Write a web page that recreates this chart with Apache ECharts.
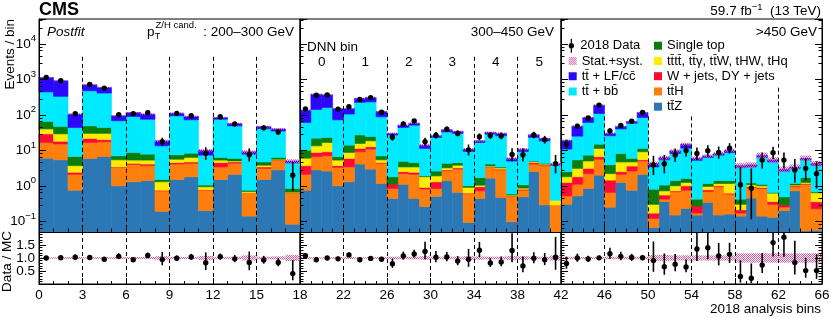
<!DOCTYPE html>
<html><head><meta charset="utf-8">
<script src="https://cdn.jsdelivr.net/npm/echarts@6.0.0/dist/echarts.min.js"></script>
<style>html,body{margin:0;padding:0;background:#fff}#c{width:830px;height:318px}</style>
</head><body><div id="c"></div>
<script>
// ---------------- data (per analysis bin, 0..65) ----------------
const sectionRanges = [[0, 18], [18, 42], [42, 66]];
const sectionTickStep = [3, 4, 4];
const sectionTitles = ['200–300 GeV', '300–450 GeV', '>450 GeV'];
const dnnBinLabels = ['0', '1', '2', '3', '4', '5'];

const ttZ = [6.0, 5.4, 0.75, 5.9, 6.7, 1.0, 1.3, 1.4, 0.19, 1.5, 1.8, 0.2, 1.5, 2.1, 0.14, 1.5, 2.8, 0.083,
  0.75, 2.8, 2.6, 1.0, 1.3, 4.1, 2.95, 1.16, 0.44, 1.1, 0.44, 0.26, 0.5, 1.4, 0.65, 0.093, 0.44, 1.64, 0.47, 0.097, 0.49, 2.5, 0.29, 0.04,
  0.3, 0.52, 0.84, 2.0, 0.25, 1.24, 0.75, 2.1, 0.067, 0.36, 0.15, 0.23, 0.15, 0.34, 0.15, 0.16, 0.14, 0.45, 0.14, 0.13, 0.2, 0.72, 0.054, 0.056];
const ttH = [10.6, 9.6, 1.35, 10.7, 10.7, 2.3, 2.7, 2.3, 0.53, 2.6, 2.5, 0.55, 1.9, 2.2, 0.51, 1.6, 2.5, 0.54,
  1.35, 3.8, 4.4, 2.3, 2.1, 5.0, 7.85, 3.14, 0.4, 1.1, 1.66, 0.55, 0.34, 1.25, 2.3, 0.51, 0.28, 1.66, 2.33, 0.4, 0.26, 1.6, 3.4, 0.25,
  0.22, 0.58, 1.36, 3.6, 0.4, 0.86, 1.85, 2.9, 0.053, 0.06, 0.53, 0.52, 0.02, 0.35, 0.79, 0.42, 0.03, 0.45, 0.7, 0.17, 0.05, 0.22, 1.05, 0.17];
const wJets = [12.4, 3.0, 0.3, 5.0, 2.6, 0.1, 0.3, 0.4, 0.03, 0.4, 0.4, 0.02, 1.1, 0.4, 0.0, 0.3, 0.1, 0.01,
  1.6, 2.1, 2.1, 0.4, 2.5, 2.2, 1.8, 0.2, 0.28, 0.3, 0.3, 0.09, 0.46, 0.15, 0.25, 0.02, 0.22, 0.1, 0.15, 0.02, 0.05, 0.4, 0.2, 0.0,
  0.72, 0.7, 0.9, 1.0, 0.8, 0.4, 1.0, 0.4, 0.05, 0.13, 0.04, 0.25, 0.1, 0.08, 0.06, 0.04, 0.04, 0.06, 0.06, 0.06, 0.04, 0.06, 0.06, 0.13];
const rareTop = [11, 11, 1.3, 8.4, 10, 2.0, 1.0, 1.2, 0.55, 1.1, 1.6, 0.17, 0.8, 0.3, 0.04, 0.4, 0.2, 0.03,
  2.3, 4.7, 7.5, 1.6, 2.8, 4.3, 5.9, 0.9, 0.0, 0.9, 1.0, 0.9, 0.6, 0.4, 0.6, 0.28, 0.1, 0.2, 0.25, 0.03, 0.06, 0.3, 0.2, 0.1,
  0.56, 1.3, 1.9, 4.7, 0.75, 2.2, 1.1, 3.7, 0.13, 0.17, 0.28, 0.24, 0.0, 0.19, 0.16, 0.54, 0.09, 0.11, 0.1, 0.26, 0.0, 0.05, 0.08, 0.28];
const singleTop = [25, 18, 3.0, 19, 14, 1.6, 3.4, 2.5, 0.2, 1.9, 2.0, 0.11, 1.0, 0.9, 0.06, 0.9, 0.7, 0.18,
  4.0, 8.6, 6.4, 1.3, 5.3, 11.4, 6.1, 1.6, 0.68, 1.5, 1.1, 0.1, 0.7, 1.1, 0.7, 0.1, 0.66, 0.5, 0.2, 0.04, 0.21, 0.2, 0.2, 0.0,
  0.7, 2.3, 2.3, 3.6, 1.7, 3.4, 1.2, 2.2, 0.5, 0.33, 0.4, 0.36, 0.15, 0.2, 0.24, 0.24, 0.12, 0.13, 0.1, 0.03, 0.2, 0.11, 0.46, 0.04];
const ttbb = [377, 283, 37, 426, 366, 61, 81, 67, 11.9, 86.5, 64, 6.25, 68.7, 43, 7.05, 36, 28.7, 3.56,
  51, 119, 138, 65.4, 91, 197, 207, 81, 25.2, 39, 46.5, 9.4, 20.4, 28.7, 25.5, 8.3, 14.9, 24.5, 22.3, 4.4, 8.2, 18, 14.2, 3.4,
  8.3, 19.6, 53.7, 94, 21.8, 31.9, 52, 72.7, 2.6, 4.35, 6.7, 9.9, 4.8, 5.1, 5.9, 7.3, 2.9, 2.2, 5.2, 4.05, 2.1, 1.94, 3.7, 3.1];
const ttLF = [685, 580, 61, 225, 180, 26, 26, 30, 5.1, 17, 18, 2.7, 9, 8, 1.3, 6, 5, 0.6,
  74, 239, 204, 78, 45, 66, 78, 36, 3, 7, 7, 2.7, 2.7, 5, 4, 1.5, 1.9, 3.4, 4.3, 0.9, 1.5, 4.3, 3, 0.3,
  8.2, 23, 23, 78, 4.3, 7, 7, 32, 0.9, 0.9, 1.6, 3.4, 0.8, 0.7, 0.8, 1.3, 0.4, 0.5, 1.0, 0.7, 0.35, 0.3, 0.6, 0.5];
const dataObs = [1130, 920, 108, 712, 560, 100, 108, 115, 17.5, 110, 94, 8.2, 88, 55, 7.5, 43, 33, 2.0,
  147, 355, 365, 145, 168, 270, 305, 118, 23.5, 55, 67, 17.5, 26.5, 39.5, 30, 10.3, 24, 26, 25.5, 7.6, 7.5, 27, 20, 4.2,
  15, 48, 81, 188, 35, 50, 66, 117, 3.9, 4.2, 7.4, 9.8, 8.1, 9.7, 8.7, 11.4, 1.07, 0.86, 5.3, 8.6, 5.3, 2.8, 3.1, 2.2];
const relUnc = [0.03, 0.03, 0.04, 0.03, 0.03, 0.04, 0.04, 0.04, 0.07, 0.04, 0.04, 0.08, 0.04, 0.05, 0.1, 0.05, 0.06, 0.12,
  0.04, 0.03, 0.03, 0.04, 0.04, 0.03, 0.03, 0.04, 0.05, 0.05, 0.05, 0.07, 0.05, 0.05, 0.05, 0.07, 0.06, 0.05, 0.05, 0.08, 0.07, 0.05, 0.05, 0.1,
  0.05, 0.04, 0.04, 0.04, 0.05, 0.05, 0.05, 0.05, 0.12, 0.12, 0.1, 0.1, 0.1, 0.1, 0.1, 0.1, 0.18, 0.18, 0.18, 0.18, 0.18, 0.18, 0.18, 0.18];
// upper end (events/bin) of the dashed group separators in the main panel (hidden behind legend/labels above)
const sepTop = [[4300, 4300, 4300, 4300, 4300], [4300, 4300, 4300, 4300, 4300], [90, 90, 90, 580, 580]];

// stacking order (bottom -> top)
const processes = [
  { name: 'tt\u0304Z', vals: ttZ, color: '#2b78b5' },
  { name: 'tt\u0304H', vals: ttH, color: '#ff7f0e' },
  { name: 'W + jets, DY + jets', vals: wJets, color: '#ff0a37' },
  { name: 'tt\u0304tt\u0304, tt\u0304\u03b3, tt\u0304W, tHW, tHq', vals: rareTop, color: '#ffec00' },
  { name: 'Single top', vals: singleTop, color: '#0a7d0a' },
  { name: 'tt\u0304 + bb\u0304', vals: ttbb, color: '#00eaff' },
  { name: 'tt\u0304 + LF/cc\u0304', vals: ttLF, color: '#2d08ff' }
];

// ---------------- helpers ----------------
const FONT = '"Liberation Sans", Arial, Helvetica, sans-serif';
const yMin = 0.05, yMax = 5e4, rMin = 0, rMax = 2;
const gridLeft = [39, 300, 561], gridW = 261;
const mainTop = 19, mainH = 213, ratioTop = 232, ratioH = 52;

function poisLo(n) { if (n <= 0) return 0; const s = 1 - 1 / (9 * n) - 1 / (3 * Math.sqrt(n)); return n * s * s * s; }
function poisHi(n) { const m = n + 1; const s = 1 - 1 / (9 * m) + 1 / (3 * Math.sqrt(m)); return m * s * s * s; }

function hatch() {
  const c = document.createElement('canvas'); c.width = 2; c.height = 2;
  const g = c.getContext('2d');
  g.fillStyle = '#e4549f';
  g.fillRect(0, 0, 1, 1); g.fillRect(1, 1, 1, 1);
  return { image: c, repeat: 'repeat' };
}
const hatchFill = hatch();

const total = dataObs.map((_, i) => processes.reduce((a, p) => a + p.vals[i], 0));

function rectRenderer(minV, maxV, fill, stroke) {
  return function (params, api) {
    const b = api.value(0);
    const lo = Math.max(api.value(1), minV), hi = Math.min(api.value(2), maxV);
    if (!(hi > lo)) return null;
    const p1 = api.coord([b, hi]), p2 = api.coord([b + 1, lo]);
    const st = { fill: fill };
    if (stroke) { st.stroke = fill; st.lineWidth = 0.6; }
    return { type: 'rect', shape: { x: p1[0], y: p1[1], width: p2[0] - p1[0], height: p2[1] - p1[1] }, style: st };
  };
}
function pointRenderer(minV, maxV) {
  return function (params, api) {
    const b = api.value(0), v = api.value(1);
    const lo = Math.max(api.value(2), minV), hi = Math.min(api.value(3), maxV);
    const children = [];
    if (hi > lo) {
      const p1 = api.coord([b + 0.5, hi]), p2 = api.coord([b + 0.5, lo]);
      children.push({ type: 'line', shape: { x1: p1[0], y1: p1[1], x2: p2[0], y2: p2[1] }, style: { stroke: '#000', lineWidth: 1.6 } });
    }
    if (v >= minV && v <= maxV) {
      const p = api.coord([b + 0.5, v]);
      children.push({ type: 'circle', shape: { cx: p[0], cy: p[1], r: 2.7 }, style: { fill: '#000' } });
    }
    return { type: 'group', children: children };
  };
}

// ---------------- layout ----------------
const grids = [], xAxes = [], yAxes = [], series = [];
const tickStyle = { color: '#000', width: 1 };
for (let s = 0; s < 3; s++) {
  grids.push({ left: gridLeft[s], top: mainTop, width: gridW, height: mainH, show: true, borderColor: '#000', borderWidth: 1, backgroundColor: 'rgba(0,0,0,0)', containLabel: false, outerBoundsMode: 'none' });
}
for (let s = 0; s < 3; s++) {
  grids.push({ left: gridLeft[s], top: ratioTop, width: gridW, height: ratioH, show: true, borderColor: '#000', borderWidth: 1, backgroundColor: 'rgba(0,0,0,0)', containLabel: false, outerBoundsMode: 'none' });
}
for (let s = 0; s < 3; s++) {
  const [mn, mx] = sectionRanges[s];
  xAxes.push({ gridIndex: s, type: 'value', min: mn, max: mx, interval: sectionTickStep[s], z: 10,
    axisLine: { show: true, onZero: false, lineStyle: tickStyle },
    axisTick: { show: true, inside: true, length: 7, lineStyle: tickStyle },
    minorTick: { show: true, splitNumber: sectionTickStep[s], length: 3.5, lineStyle: tickStyle },
    axisLabel: { show: false }, splitLine: { show: false } });
}
for (let s = 0; s < 3; s++) {
  const [mn, mx] = sectionRanges[s];
  xAxes.push({ gridIndex: 3 + s, type: 'value', min: mn, max: mx, interval: sectionTickStep[s], z: 10,
    axisLine: { show: true, onZero: false, lineStyle: tickStyle },
    axisTick: { show: true, inside: true, length: 6, lineStyle: tickStyle },
    minorTick: { show: true, splitNumber: sectionTickStep[s], length: 3, lineStyle: tickStyle },
    axisLabel: { show: true, showMinLabel: s === 0, showMaxLabel: true, margin: 4, color: '#000', fontSize: 13.5, fontFamily: FONT },
    splitLine: { show: false } });
}
const logLabel = {
  show: true, margin: 3, showMinLabel: false, showMaxLabel: false,
  formatter: function (v) { const e = Math.round(Math.log10(v)); return '{b|10}{e|' + (e < 0 ? '\u2212' + (-e) : e) + '}'; },
  rich: { b: { fontSize: 13.5, lineHeight: 20, color: '#000', fontFamily: FONT }, e: { fontSize: 9.5, lineHeight: 11, verticalAlign: 'top', color: '#000', fontFamily: FONT } }
};
for (let s = 0; s < 3; s++) {
  yAxes.push({ gridIndex: s, type: 'log', logBase: 10, min: yMin, max: yMax, z: 10,
    axisLine: { show: true, lineStyle: tickStyle },
    axisTick: { show: true, inside: true, length: 7, lineStyle: tickStyle },
    minorTick: { show: true, splitNumber: 5, length: 3.5, lineStyle: tickStyle },
    axisLabel: s === 0 ? logLabel : { show: false }, splitLine: { show: false } });
}
for (let s = 0; s < 3; s++) {
  yAxes.push({ gridIndex: 3 + s, type: 'value', min: rMin, max: rMax, interval: 0.5, z: 10,
    axisLine: { show: true, lineStyle: tickStyle },
    axisTick: { show: true, inside: true, length: 7, lineStyle: tickStyle },
    minorTick: { show: true, splitNumber: 5, length: 3.5, lineStyle: tickStyle },
    axisLabel: s === 0 ? { show: true, margin: 4, showMinLabel: false, showMaxLabel: false, formatter: v => v.toFixed(1), color: '#000', fontSize: 13.5, fontFamily: FONT } : { show: false },
    splitLine: { show: false } });
}
yAxes.push({ gridIndex: 2, type: 'log', logBase: 10, min: yMin, max: yMax, position: 'right', z: 10,
  axisLine: { show: true, lineStyle: tickStyle }, axisTick: { show: true, inside: true, length: 7, lineStyle: tickStyle },
  minorTick: { show: true, splitNumber: 5, length: 3.5, lineStyle: tickStyle }, axisLabel: { show: false }, splitLine: { show: false } });
yAxes.push({ gridIndex: 5, type: 'value', min: rMin, max: rMax, interval: 0.5, position: 'right', z: 10,
  axisLine: { show: true, lineStyle: tickStyle }, axisTick: { show: true, inside: true, length: 7, lineStyle: tickStyle },
  minorTick: { show: true, splitNumber: 5, length: 3.5, lineStyle: tickStyle }, axisLabel: { show: false }, splitLine: { show: false } });

// ---------------- series ----------------
const dashStyle = { color: '#000', type: [4, 3], width: 1 };
for (let s = 0; s < 3; s++) {
  const [mn, mx] = sectionRanges[s];
  const bins = []; for (let b = mn; b < mx; b++) bins.push(b);
  const cum = bins.map(() => 0);
  processes.forEach(p => {
    const rows = bins.map((b, k) => { const lo = cum[k]; cum[k] += p.vals[b]; return [b, lo, cum[k]]; });
    series.push({ type: 'custom', name: p.name, xAxisIndex: s, yAxisIndex: s, z: 2, itemStyle: { color: p.color },
      renderItem: rectRenderer(yMin, yMax, p.color, true), encode: { x: 0, y: [1, 2] }, data: rows, silent: true });
  });
  series.push({ type: 'custom', name: 'Stat.+syst.', xAxisIndex: s, yAxisIndex: s, z: 3, itemStyle: { color: hatchFill },
    renderItem: rectRenderer(yMin, yMax, hatchFill, false), encode: { x: 0, y: [1, 2] },
    data: bins.map(b => [b, total[b] * (1 - relUnc[b]), total[b] * (1 + relUnc[b])]), silent: true });
  series.push({ type: 'custom', name: '2018 Data', xAxisIndex: s, yAxisIndex: s, z: 9, itemStyle: { color: '#000' },
    renderItem: pointRenderer(yMin, yMax), encode: { x: 0, y: [1, 2, 3] },
    data: bins.map(b => [b, dataObs[b], poisLo(dataObs[b]), poisHi(dataObs[b])]), silent: true });
  series.push({ type: 'custom', name: 'Stat.+syst.', xAxisIndex: 3 + s, yAxisIndex: 3 + s, z: 3, itemStyle: { color: hatchFill },
    renderItem: rectRenderer(rMin, rMax, hatchFill, false), encode: { x: 0, y: [1, 2] },
    data: bins.map(b => [b, 1 - relUnc[b], 1 + relUnc[b]]), silent: true });
  series.push({ type: 'custom', name: '2018 Data', xAxisIndex: 3 + s, yAxisIndex: 3 + s, z: 9, itemStyle: { color: '#000' },
    renderItem: pointRenderer(rMin, rMax), encode: { x: 0, y: [1, 2, 3] },
    data: bins.map(b => [b, dataObs[b] / total[b], poisLo(dataObs[b]) / total[b], poisHi(dataObs[b]) / total[b]]), silent: true });
  const sepX = []; for (let v = mn + sectionTickStep[s]; v < mx; v += sectionTickStep[s]) sepX.push(v);
  series.push({ type: 'line', name: 'sep', xAxisIndex: s, yAxisIndex: s, z: 8, data: [], silent: true,
    markLine: { silent: true, symbol: ['none', 'none'], label: { show: false }, animation: false, lineStyle: dashStyle,
      data: sepX.map((v, k) => [{ coord: [v, sepTop[s][k]] }, { coord: [v, yMin] }]) } });
  series.push({ type: 'line', name: 'sep', xAxisIndex: 3 + s, yAxisIndex: 3 + s, z: 8, data: [], silent: true,
    markLine: { silent: true, symbol: ['none', 'none'], label: { show: false }, animation: false, lineStyle: dashStyle,
      data: sepX.map(v => ({ xAxis: v })) } });
}

const dataIcon = 'path://M3.3,0h1.4v16h-1.4z M1,8a3,3 0 1,1 6,0a3,3 0 1,1 -6,0z';
const legText = { fontSize: 13, fontFamily: FONT, color: '#000', lineHeight: 14 };
const legends = [
  { data: [{ name: '2018 Data', icon: dataIcon }], left: 568.7, top: 38.7, orient: 'vertical', itemWidth: 8, itemHeight: 14, padding: 0, selectedMode: false, textStyle: legText },
  { data: ['Stat.+syst.', 'tt\u0304 + LF/cc\u0304', 'tt\u0304 + bb\u0304'], icon: 'rect', left: 568.7, top: 54, orient: 'vertical', itemWidth: 8, itemHeight: 8, itemGap: 1.25, padding: 0, selectedMode: false, textStyle: legText },
  { data: ['Single top', 'tt\u0304tt\u0304, tt\u0304\u03b3, tt\u0304W, tHW, tHq', 'W + jets, DY + jets', 'tt\u0304H', 'tt\u0304Z'], icon: 'rect', left: 654, top: 38.7, orient: 'vertical', itemWidth: 8, itemHeight: 8, itemGap: 1.25, padding: 0, selectedMode: false, textStyle: legText }
];

const chart = echarts.init(document.getElementById('c'), null, { renderer: 'canvas' });
chart.setOption({
  animation: false,
  textStyle: { fontFamily: FONT },
  grid: grids, xAxis: xAxes, yAxis: yAxes, legend: legends, series: series
});

const txt = (o) => Object.assign({ fill: '#000', fontFamily: FONT, fontSize: 13.5 }, o);
const graphics = [
  { type: 'text', x: 39, y: 10, style: txt({ text: 'CMS', fontSize: 18, fontWeight: 'bold', verticalAlign: 'middle' }) },
  { type: 'text', x: 821, y: 11, style: txt({ text: '{n|59.7 fb}{s|\u22121}{n|  (13 TeV)}', align: 'right', verticalAlign: 'middle',
    rich: { n: { fontSize: 13.5, lineHeight: 18, fontFamily: FONT, fill: '#000' }, s: { fontSize: 9.5, lineHeight: 10, verticalAlign: 'top', fontFamily: FONT, fill: '#000' } } }) },
  { type: 'text', x: 47, y: 32, style: txt({ text: 'Postfit', fontStyle: 'italic', verticalAlign: 'middle' }) },
  { type: 'text', x: 147, y: 32.5, style: txt({ text: 'p', verticalAlign: 'middle' }) },
  { type: 'text', x: 154.5, y: 36.5, style: txt({ text: 'T', fontSize: 9.5, verticalAlign: 'middle' }) },
  { type: 'text', x: 155.5, y: 25, style: txt({ text: 'Z/H cand.', fontSize: 9.5, verticalAlign: 'middle' }) },
  { type: 'text', x: 294, y: 32.5, style: txt({ text: ': ' + sectionTitles[0], align: 'right', verticalAlign: 'middle' }) },
  { type: 'text', x: 554, y: 32.5, style: txt({ text: sectionTitles[1], align: 'right', verticalAlign: 'middle' }) },
  { type: 'text', x: 817, y: 32.5, style: txt({ text: sectionTitles[2], align: 'right', verticalAlign: 'middle' }) },
  { type: 'text', x: 307, y: 47, style: txt({ text: 'DNN bin', verticalAlign: 'middle' }) },
  { type: 'text', x: 10, y: 19, rotation: Math.PI / 2, style: txt({ text: 'Events / bin', align: 'right', verticalAlign: 'middle' }) },
  { type: 'text', x: 7.5, y: 261.5, rotation: Math.PI / 2, style: txt({ text: 'Data / MC', align: 'center', verticalAlign: 'middle' }) },
  { type: 'text', x: 821, y: 309, style: txt({ text: '2018 analysis bins', align: 'right', verticalAlign: 'middle' }) }
];
dnnBinLabels.forEach((lab, k) => {
  const c = sectionRanges[1][0] + sectionTickStep[1] * (k + 0.5);
  const px = chart.convertToPixel({ xAxisIndex: 1 }, c);
  graphics.push({ type: 'text', x: px, y: 62.5, style: txt({ text: lab, align: 'center', verticalAlign: 'middle' }) });
});
chart.setOption({ graphic: graphics });
</script></body></html>
